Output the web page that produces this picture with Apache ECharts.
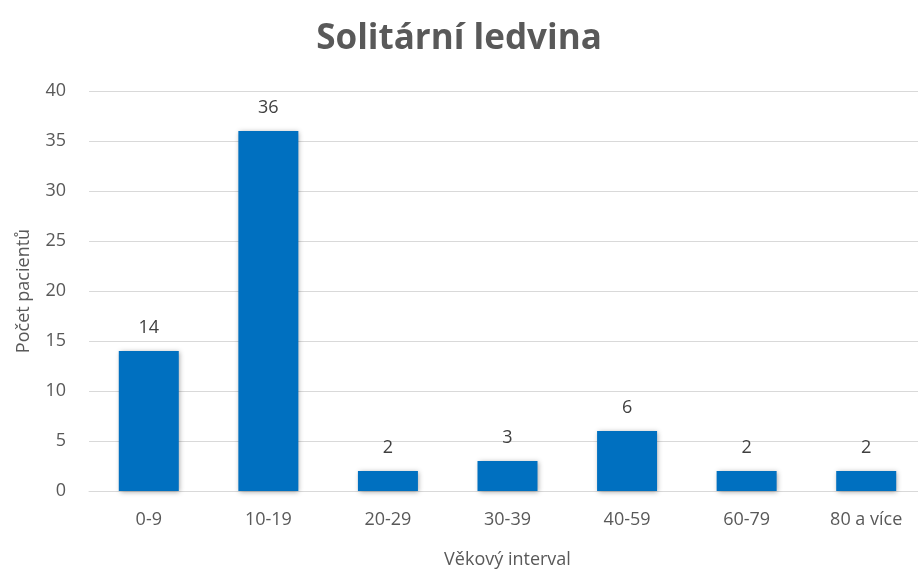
<!DOCTYPE html>
<html><head><meta charset="utf-8">
<script src="https://cdn.jsdelivr.net/npm/echarts@6/dist/echarts.min.js"></script>
<style>html,body{margin:0;padding:0;background:#fff}#c{width:918px;height:569px}</style>
</head><body><div id="c"></div>
<script>
const categories = ['0-9','10-19','20-29','30-39','40-59','60-79','80 a více'];
const values = [14,36,2,3,6,2,2];
const yTicks = [0,5,10,15,20,25,30,35,40];
const titleText = 'Solitární ledvina';
const xName = 'Věkový interval';
const yName = 'Počet pacientů';

const chart = echarts.init(document.getElementById('c'));
const font = '"Open Sans", "Liberation Sans", sans-serif';
chart.setOption({
  animation:false,
  textStyle:{fontFamily:font},
  title:{text:titleText,left:'center',top:17,textStyle:{fontFamily:font,fontSize:35,fontWeight:'bold',color:'#595959'}},
  grid:{left:89,right:-8,top:91,bottom:78,containLabel:false,outerBoundsMode:'none'},
  xAxis:{type:'category',data:categories,
    axisLine:{lineStyle:{color:'#d9d9d9',width:1}},axisTick:{show:false},
    axisLabel:{fontSize:18,color:'#595959',margin:20,fontFamily:font},
    name:xName,nameLocation:'middle',nameGap:60,
    nameTextStyle:{fontSize:18,color:'#595959',fontFamily:font}},
  yAxis:{type:'value',min:0,max:40,interval:5,
    axisLine:{show:false},axisTick:{show:false},
    splitLine:{lineStyle:{color:'#d9d9d9',width:1}},
    axisLabel:{fontSize:18,color:'#595959',margin:23,fontFamily:font},
    name:yName,nameLocation:'middle',nameGap:56,nameRotate:90,
    nameTextStyle:{fontSize:18,color:'#595959',fontFamily:font}},
  series:[{type:'bar',data:values,barWidth:60,
    itemStyle:{color:'#0070C0',shadowBlur:5,shadowColor:'rgba(0,0,0,0.35)',shadowOffsetX:1,shadowOffsetY:1},
    label:{show:true,position:'top',distance:14,fontSize:18,color:'#404040',fontFamily:font}}]
});
</script></body></html>
